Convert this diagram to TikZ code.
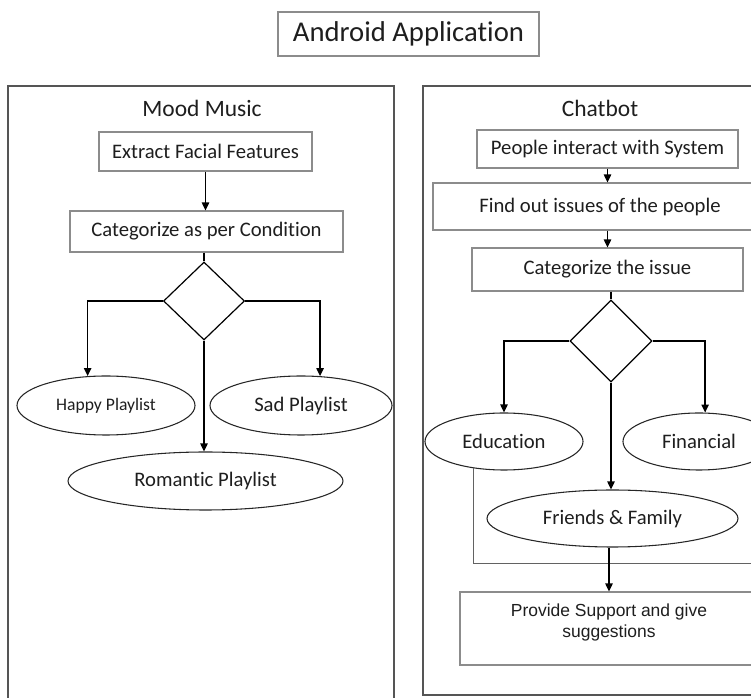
\documentclass[tikz,border=0pt]{standalone}
\usepackage{fontspec}
\setmainfont{Carlito}[Ligatures=NoCommon]
\newfontfamily\arialfont{Liberation Sans}
\usetikzlibrary{shapes.geometric,arrows.meta}

\definecolor{rahmen}{HTML}{555555}
\definecolor{kante}{HTML}{8C8C8C}
\definecolor{schrift}{HTML}{1E1E1E}

\begin{document}
\begin{tikzpicture}[x=0.75pt,y=-0.75pt,
  titel/.style={draw=kante, line width=0.8pt, inner sep=0pt, text=schrift,
    minimum width=195.75pt, minimum height=33pt, font=\fontsize{21.5}{26}\selectfont},
  kopf/.style={inner sep=0pt, text=schrift, font=\fontsize{17.6}{21}\selectfont},
  kasten/.style={draw=kante, line width=0.8pt, inner sep=0pt, text=schrift,
    font=\fontsize{15.5}{18.6}\selectfont},
  raute/.style={diamond, draw=black, line width=0.9pt, inner sep=0pt},
  oval/.style={ellipse, draw=black!85, line width=0.8pt, inner sep=0pt, text=schrift,
    font=\fontsize{15.5}{18.6}\selectfont},
  pfeil/.style={draw=black, line width=1.1pt, -{Triangle[length=6pt,width=5.5pt]}},
  linie/.style={draw=black, line width=1.1pt},
  duenn/.style={draw=kante!70!black, line width=0.7pt}]

  \useasboundingbox (0,0) rectangle (751,698);
  \clip (0,0) rectangle (751,698);

  % Titel
  \node[titel] (app) at (408.5,34) {Android Application};

  % Rahmen der beiden Teile
  \draw[rahmen, line width=1.1pt] (8,86) rectangle (394,712);
  \draw[rahmen, line width=1.1pt] (423,86) rectangle (772,695);

  % Mood Music
  \node[kopf] (mood) at (202,108) {Mood Music};
  \node[kasten, minimum width=159.75pt, minimum height=29.25pt] (extract) at (205.5,151.5) {Extract Facial Features};
  \node[kasten, minimum width=204.75pt, minimum height=30.75pt] (categ) at (206.5,231.5) {Categorize as per Condition};
  \node[raute, minimum width=60.75pt, minimum height=58.5pt] (dia1) at (204,301) {};
  \node[oval, minimum width=133.5pt, minimum height=44.25pt, font=\fontsize{13.2}{16}\selectfont] (happy) at (106,405.5) {Happy Playlist};
  \node[oval, minimum width=136.5pt, minimum height=44.25pt] (sad) at (301,405.5) {Sad Playlist};
  \node[oval, minimum width=206.25pt, minimum height=43.5pt] (rom) at (205.5,481) {Romantic Playlist};

  \draw[pfeil] (extract.south) -- (extract.south |- categ.north);
  \draw[linie] (categ.south -| dia1.north) -- (dia1.north);
  \draw[pfeil] (dia1.west) -| (happy.122);
  \draw[pfeil] (dia1.east) -| (sad.57);
  \draw[pfeil] (dia1.south) -- (dia1.south |- rom.north);

  % Chatbot
  \node[kopf] (chat) at (600,108) {Chatbot};
  \node[kasten, minimum width=195.75pt, minimum height=28.5pt] (people) at (607.5,149) {People interact with System};
  \node[kasten, minimum width=250.5pt, minimum height=35.25pt] (issues) at (600,206.5) {Find out issues of the people};
  \node[kasten, minimum width=203.25pt, minimum height=32.25pt] (categ2) at (607.5,269.5) {Categorize the issue};
  \node[raute, minimum width=61.5pt, minimum height=61.5pt] (dia2) at (611,341) {};
  \node[oval, minimum width=118.5pt, minimum height=42.75pt] (edu) at (504,441.5) {Education};
  \node[oval, minimum width=114pt, minimum height=42.75pt] (fin) at (699,441.5) {Financial};
  \node[oval, minimum width=188.25pt, minimum height=42.75pt] (friends) at (612.5,518.5) {Friends \& Family};
  \node[kasten, minimum width=223.5pt, minimum height=54.75pt, align=center, text depth=12pt,
    font=\arialfont\fontsize{13.1}{15.75}\selectfont] (support) at (609,628.5) {Provide Support and give\\suggestions};
  \coordinate (sammel) at (772,563);

  \draw[pfeil] (people.south) -- (people.south |- issues.north);
  \draw[pfeil] (people.south |- issues.south) -- (people.south |- categ2.north);
  \draw[linie] (categ2.south -| dia2.north) -- (dia2.north);
  \draw[pfeil] (dia2.west) -| (edu.north);
  \draw[pfeil] (dia2.east) -| (fin.78);
  \draw[pfeil] (dia2.south) -- (dia2.south |- friends.north);
  \draw[duenn] (edu.221) |- (sammel);
  \draw[pfeil] (support.north |- friends.south) -- (support.north);
\end{tikzpicture}
\end{document}
